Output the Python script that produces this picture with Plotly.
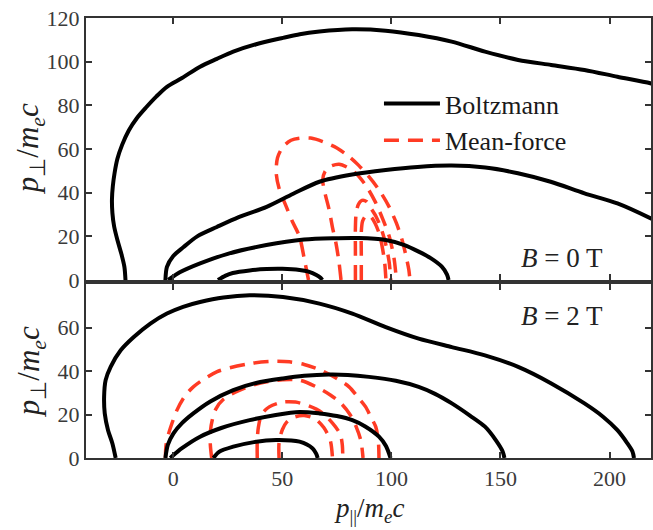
import plotly.graph_objects as go

# ---------------- data ----------------
# Top panel (B = 0 T), Boltzmann contours
t_b1_x = [-21.9, -22.4, -23.8, -25.6, -27.1, -27.9, -28.1, -27.7, -26.9, -25.6, -23.4, -20.4, -16.8, -12.5, -7.8, -2.9, 4, 12.3, 20, 27.5, 38, 50.3, 58, 67, 82, 97.4, 112.5, 127.6, 142.9, 158.1, 173.2, 188.5, 203.6, 218.7, 224]
t_b1_y = [0, 6, 12, 18.3, 24.5, 30.7, 37, 43, 49, 55.5, 62, 68.5, 74, 79, 84, 88.5, 92.5, 97.7, 101.3, 104.6, 108, 110.9, 112.6, 113.8, 114.8, 114.2, 112.2, 109.2, 104.6, 100.8, 98.5, 96.2, 93.1, 90.1, 88.6]
t_b2_x = [-3.6, -2.9, 0, 4.6, 11, 20, 30, 42.8, 55, 67, 82, 97.4, 112, 127.6, 143, 158, 173, 188.5, 203.6, 218.7, 224]
t_b2_y = [0, 6, 11, 15, 20, 24.3, 28.8, 33.5, 39.5, 45, 48.3, 50.4, 51.8, 52.4, 51.5, 48.9, 45, 39.7, 35.1, 28.3, 25.5]
t_b3_x = [-2.3, 3, 12.3, 25, 42.7, 60, 73, 85, 97.4, 106, 112.5, 118, 123.1, 125.5, 126.2]
t_b3_y = [0, 3.5, 7.6, 12, 16, 18.5, 19.1, 19.2, 18.3, 16, 13, 10, 6.1, 2.5, 0]
t_b4_x = [20.5, 24, 27.3, 35, 42.8, 50, 57.9, 62, 65.6, 67.5, 68.3]
t_b4_y = [0, 2, 3.2, 4.4, 5, 5.1, 4.6, 3.8, 2.3, 1, 0]

# Top panel, mean-force contours
t_m1_x = [62, 60, 57.9, 54.5, 51.8, 48.5, 47.2, 47.8, 50.3, 54, 57.9, 63, 68.5, 75, 80.6, 85, 89.7, 94.5, 98.9, 102.3, 104.9, 106.7, 108, 108.5]
t_m1_y = [0, 10, 19.8, 27, 33.6, 42, 48.9, 56, 61, 64, 64.9, 65, 63.4, 60.5, 56.5, 52.5, 47.3, 41, 33.6, 26, 18.3, 11, 4.6, 0]
t_m2_x = [76.9, 76, 74.6, 73, 71.5, 69.5, 68.5, 69.5, 72, 76, 80, 84, 88.5, 92.5, 96, 99, 101.2, 102.3]
t_m2_y = [0, 8, 16.8, 24, 32, 40, 45.8, 49.5, 52, 53, 51.5, 48.5, 43, 36, 28, 20, 10, 0]
t_m3_x = [83.5, 83.5, 83.5, 83.8, 84.8, 86.5, 88.5, 90.5, 93, 95.5, 97.5, 99, 99.7]
t_m3_y = [0, 12, 24, 30, 34.5, 36.5, 36, 33, 29, 23, 16, 8, 0]
t_m4_x = [86.2, 86.2, 86.2, 86.8, 88.5, 90.5, 92.5, 94.5, 96, 97, 97.5]
t_m4_y = [0, 12, 22, 27, 29.5, 29, 26, 21, 14, 7, 0]

# Bottom panel (B = 2 T), Boltzmann contours
b_b1_x = [-26.4, -27.9, -29.9, -31.4, -31.7, -31, -28.7, -24.1, -18.1, -10.5, -2.9, 4.5, 12.3, 23, 35, 50.3, 67, 82.1, 97.4, 112.5, 127.7, 142.9, 158.1, 173.3, 188.5, 197, 203.6, 208, 210.5, 211.2]
b_b1_y = [0, 6.7, 12.8, 20.5, 28.1, 35.8, 41.9, 49.5, 55.6, 61.8, 66.4, 69.5, 71.7, 73.8, 74.8, 74, 71, 66.4, 60.2, 54.9, 51, 47.2, 41.9, 34.3, 25.1, 19, 12.8, 7, 3, 0]
b_b2_x = [-3.6, -2.5, 0.1, 4, 9.2, 17, 27.5, 38, 50.3, 60, 71.5, 80, 89.7, 102, 112.5, 120, 127.7, 136, 142.9, 148, 151, 151.8]
b_b2_y = [0, 6, 11.3, 16, 20.5, 26, 31.2, 34.5, 36.6, 37.8, 38.4, 38.2, 37.3, 35.5, 32.7, 29.5, 25.1, 19.5, 14.4, 8, 3, 0]
b_b3_x = [-1.4, 4, 12.3, 22, 35, 47, 57.9, 67, 75, 82.1, 88, 94.3, 97.5, 99.6]
b_b3_y = [0, 4.5, 9.8, 13.8, 17.4, 19.8, 21.2, 20.5, 19.3, 17.4, 14.5, 9.8, 5.5, 0]
b_b4_x = [18.4, 21, 27.5, 37, 47.2, 57.9, 63.9, 65.5, 66.2]
b_b4_y = [0, 2.8, 5.2, 7.3, 8.3, 7.5, 4.4, 2, 0]

# Bottom panel, mean-force contours
b_m1_x = [-3.6, -3.3, -2.1, 1.7, 5, 9.2, 19.9, 35.1, 45, 53.3, 60, 68.5, 75, 80.6, 85, 88.2, 90.5, 92.8, 94, 94.3]
b_m1_y = [0, 6, 11.3, 22, 28, 32.7, 39.6, 43.4, 44.4, 44.2, 43, 40, 36.5, 32.7, 27.5, 23.5, 19, 14.4, 8, 0]
b_m2_x = [17.6, 17, 17, 18, 19.5, 23, 30, 40, 50, 58, 65, 72, 77, 81, 84, 86, 87]
b_m2_y = [0, 6, 12, 18, 22.5, 27, 31, 34.5, 36, 35.8, 33, 29, 25, 20, 14, 8, 0]
b_m3_x = [38.5, 38.5, 39, 40.5, 44, 50, 56, 62, 68, 73, 76.5, 77.5, 77.7]
b_m3_y = [0, 8, 14, 20, 23.5, 25.7, 25.7, 24, 21, 16, 11, 6, 0]
b_m4_x = [48.5, 48.5, 50, 52, 55.5, 60, 65, 69, 72, 73]
b_m4_y = [0, 7, 13, 16.5, 18.8, 19.5, 18, 14, 8, 0]

x_ticks = [0, 50, 100, 150, 200]
top_y_ticks = [0, 20, 40, 60, 80, 100, 120]
bot_y_ticks = [0, 20, 40, 60]
series_names = ["Boltzmann", "Mean-force"]
panel_labels = ["<i>B</i> = 0 T", "<i>B</i> = 2 T"]

# ---------------- figure ----------------
BLACK = "#000000"
RED = "#ff3b24"
FONT = "Liberation Serif"
AXC = "#333333"

fig = go.Figure()

def add(xs, ys, kind, xa, ya, legend=False):
    if kind == "mf":
        line = dict(color=RED, width=3.5, dash="15px,9px", shape="spline", smoothing=0.8)
        name, rank = series_names[1], 2
    else:
        line = dict(color=BLACK, width=4, shape="spline", smoothing=0.8)
        name, rank = series_names[0], 1
    fig.add_trace(go.Scatter(x=xs, y=ys, mode="lines", line=line,
                             name=name, showlegend=legend, legendrank=rank,
                             xaxis=xa, yaxis=ya, hoverinfo="skip"))

# mean-force drawn first, Boltzmann on top
add(t_m1_x, t_m1_y, "mf", "x", "y", legend=True)
for xs, ys in [(t_m2_x, t_m2_y), (t_m3_x, t_m3_y), (t_m4_x, t_m4_y)]:
    add(xs, ys, "mf", "x", "y")
for xs, ys in [(b_m1_x, b_m1_y), (b_m2_x, b_m2_y), (b_m3_x, b_m3_y), (b_m4_x, b_m4_y)]:
    add(xs, ys, "mf", "x2", "y2")
add(t_b1_x, t_b1_y, "b", "x", "y", legend=True)
for xs, ys in [(t_b2_x, t_b2_y), (t_b3_x, t_b3_y), (t_b4_x, t_b4_y)]:
    add(xs, ys, "b", "x", "y")
for xs, ys in [(b_b1_x, b_b1_y), (b_b2_x, b_b2_y), (b_b3_x, b_b3_y), (b_b4_x, b_b4_y)]:
    add(xs, ys, "b", "x2", "y2")

PLOT_H = 440.0
axis_common = dict(showline=True, linecolor=AXC, linewidth=2, mirror="ticks",
                   ticks="inside", ticklen=6, tickwidth=1.5, tickcolor=AXC,
                   showgrid=False, zeroline=False,
                   tickfont=dict(family=FONT, size=22, color="#3a3a3a"))

fig.update_layout(
    width=653, height=530,
    margin=dict(l=86, r=0, t=18, b=72),
    plot_bgcolor="white", paper_bgcolor="white",
    font=dict(family=FONT),
    xaxis=dict(axis_common, domain=[0, 1], range=[-40, 219], anchor="y",
               tickvals=x_ticks, showticklabels=False, matches="x2"),
    xaxis2=dict(axis_common, domain=[0, 1], range=[-40, 219], anchor="y2",
                tickvals=x_ticks),
    yaxis=dict(axis_common, domain=[178 / PLOT_H, 1], range=[0, 120], anchor="x",
               tickvals=top_y_ticks),
    yaxis2=dict(axis_common, domain=[0, 174 / PLOT_H], range=[0, 80], anchor="x2",
                tickvals=bot_y_ticks),
    legend=dict(x=(380 - 86) / 567, y=(458 - 80) / PLOT_H, xanchor="left", yanchor="top",
                bgcolor="rgba(0,0,0,0)", font=dict(family=FONT, size=26, color="#1a1a1a"),
                itemwidth=56, tracegroupgap=0, traceorder="normal"),
    showlegend=True,
)

def ann(text, px, py, size, angle=0, xanchor="center"):
    fig.add_annotation(text=text, xref="paper", yref="paper",
                       x=(px - 86) / 567, y=(458 - py) / PLOT_H,
                       xanchor=xanchor, yanchor="middle", showarrow=False,
                       textangle=angle, font=dict(family=FONT, size=size, color="#222"))

ylab = "<i>p</i><sub>⊥</sub>/<i>m</i><sub><i>e</i></sub><i>c</i>"
ann(ylab, 30, 149, 31, angle=-90)
ann(ylab, 31, 372, 31, angle=-90)
ann("<i>p</i><sub>||</sub>/<i>m</i><sub><i>e</i></sub><i>c</i>", 370, 510, 27)
ann(panel_labels[0], 607, 258, 27, xanchor="right")
ann(panel_labels[1], 607, 316, 27, xanchor="right")

fig.write_html("out.html")
